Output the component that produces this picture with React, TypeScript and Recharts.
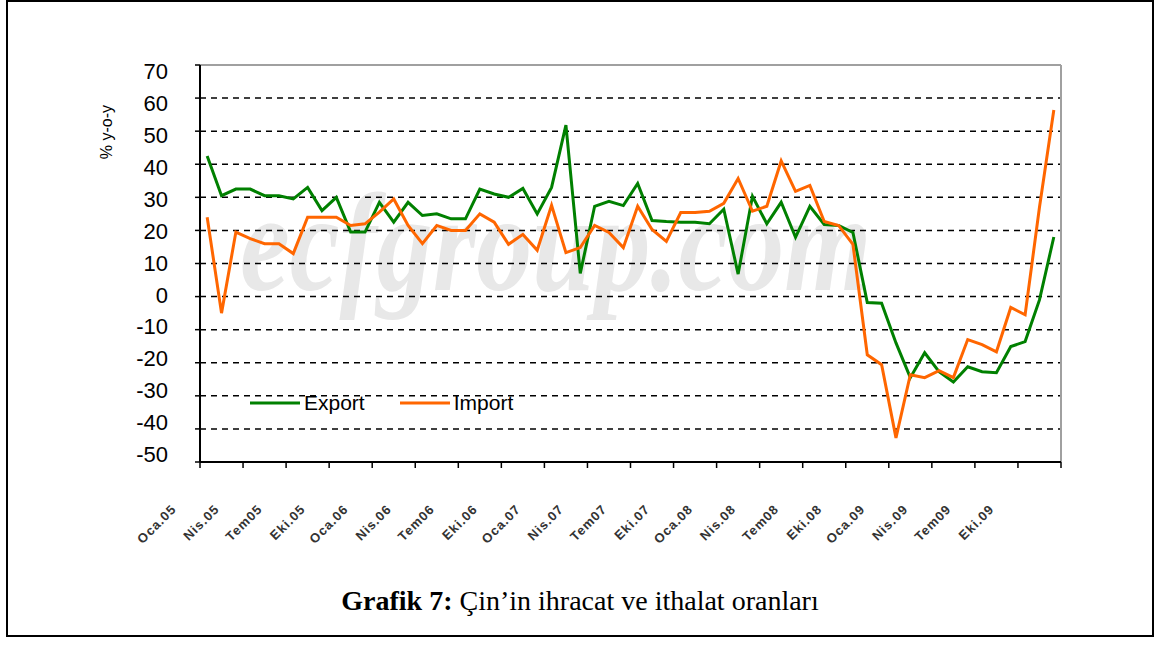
import { LineChart, Line, XAxis, YAxis, CartesianGrid, ReferenceLine, Legend } from 'recharts';

// tick labels, one per quarter (Oca = Jan, Nis = Apr, Tem = Jul, Eki = Oct)
const quarterLabels = [
  'Oca.05', 'Nis.05', 'Tem05', 'Eki.05',
  'Oca.06', 'Nis.06', 'Tem06', 'Eki.06',
  'Oca.07', 'Nis.07', 'Tem07', 'Eki.07',
  'Oca.08', 'Nis.08', 'Tem08', 'Eki.08',
  'Oca.09', 'Nis.09', 'Tem09', 'Eki.09',
];

// monthly % y-o-y, Jan 2005 .. Dec 2009
const exportGrowth = [
  42.5, 30.5, 32.5, 32.5, 30.5, 30.5, 29.5, 33, 26, 30, 19.5, 19.5,
  28.5, 22.5, 28.5, 24.5, 25, 23.5, 23.5, 32.5, 31, 30, 32.7, 25,
  33, 51.8, 7, 27.3, 28.8, 27.5, 34.2, 23, 22.7, 22.5, 22.5, 22,
  26.4, 6.8, 30.3, 22, 28.5, 17.9, 27.3, 21.8, 21.5, 19.4, -1.8, -2,
  -14, -24.5, -17, -22.7, -25.8, -21.2, -22.7, -23, -15.1, -13.6, -1, 18,
];

const importGrowth = [
  24, -5, 19.5, 17.5, 16, 16, 13, 24, 24, 24, 21.5, 22,
  25.5, 29.5, 21.5, 16, 21.5, 20, 20, 25, 22.5, 15.8, 18.8, 14,
  27.6, 13.3, 14.8, 21.5, 19.4, 14.8, 27.3, 20.3, 16.7, 25.4, 25.4, 25.8,
  28.2, 35.7, 25.8, 27.3, 41, 31.8, 33.6, 22.7, 21.5, 15.8, -17.6, -20.6,
  -42.7, -23.6, -24.5, -22.4, -24.5, -13, -14.5, -16.7, -3.3, -5.5, 27, 56.4,
];

const yTicks = [-50, -40, -30, -20, -10, 0, 10, 20, 30, 40, 50, 60, 70];

// month i sits in the middle of its slot, quarter ticks on the slot borders
const data = exportGrowth.map((v, i) => ({ x: i + 0.5, Export: v, Import: importGrowth[i] }));
const xTicks = quarterLabels.map((_, i) => i * 3).concat(quarterLabels.length * 3);

const GREEN = '#008000';
const ORANGE = '#ff6600';

function MonthTick(props: any) {
  const { x, y, payload } = props;
  const label = quarterLabels[payload.value / 3];
  if (!label) return null;
  const ax = x - 23;
  const ay = y + 42;
  return (
    <text
      x={ax}
      y={ay}
      transform={`rotate(-45 ${ax} ${ay})`}
      textAnchor="end"
      fontFamily="'Liberation Sans', Arial, sans-serif"
      fontSize={13}
      fontWeight="bold"
      letterSpacing={1}
      fill="#333"
    >
      {label}
    </text>
  );
}

function ValueTick(props: any) {
  const { x, y, payload } = props;
  // labels in the original sit slightly closer together than the grid
  const shift = -2 + 0.115 * payload.value;
  return (
    <text
      x={x}
      y={y + shift}
      dy="0.36em"
      textAnchor="end"
      fontFamily="'Liberation Sans', Arial, sans-serif"
      fontSize={22}
      fill="#000"
    >
      {payload.value}
    </text>
  );
}

function LegendBox() {
  const items = [
    { name: 'Export', color: GREEN },
    { name: 'Import', color: ORANGE },
  ];
  return (
    <div style={{ display: 'flex', alignItems: 'center', fontFamily: "'Liberation Sans', Arial, sans-serif", fontSize: 21 }}>
      {items.map((it, i) => (
        <div key={it.name} style={{ display: 'flex', alignItems: 'center', marginRight: i === 0 ? 35 : 0 }}>
          <svg width={50} height={6} style={{ marginRight: 4 }}>
            <line x1={0} y1={3} x2={50} y2={3} stroke={it.color} strokeWidth={3} />
          </svg>
          <span>{it.name}</span>
        </div>
      ))}
    </div>
  );
}

export default function App() {
  return (
    <div style={{ position: 'absolute', left: 0, top: 0, width: 1160, height: 646, background: '#fff', overflow: 'hidden' }}>
      <div
        style={{
          position: 'absolute', left: 6, top: 0, width: 1148, height: 637,
          border: '2px solid #000', boxSizing: 'border-box',
        }}
      />
      <div
        style={{
          position: 'absolute', left: 240, top: 173, fontFamily: "'Liberation Serif', serif",
          fontStyle: 'italic', fontWeight: 'bold', fontSize: 140, lineHeight: '140px', color: '#e8e8e8',
          whiteSpace: 'nowrap', transform: 'scaleX(0.8)', transformOrigin: 'left top',
        }}
      >
        ecfgroup.com
      </div>
      <div style={{ position: 'absolute', left: 0, top: 0 }}>
        <LineChart width={1160} height={646} data={data} margin={{ top: 65, right: 99, bottom: 84, left: 140 }}>
          <CartesianGrid vertical={false} stroke="#000" strokeWidth={1.5} strokeDasharray="6 5" />
          <XAxis
            type="number"
            dataKey="x"
            domain={[0, 60]}
            ticks={xTicks}
            interval={0}
            height={100}
            tickSize={6}
            tickMargin={0}
            axisLine={{ stroke: '#000', strokeWidth: 2 }}
            tickLine={{ stroke: '#000', strokeWidth: 1.5 }}
            tick={<MonthTick />}
          />
          <YAxis
            domain={[-50, 70]}
            ticks={yTicks}
            interval={0}
            width={60}
            tickSize={5}
            tickMargin={27}
            axisLine={{ stroke: '#000', strokeWidth: 2 }}
            tickLine={{ stroke: '#000', strokeWidth: 1.5 }}
            tick={<ValueTick />}
            label={{
              content: () => (
                <text
                  x={112}
                  y={132}
                  transform="rotate(-90 112 132)"
                  textAnchor="middle"
                  fontFamily="'Liberation Sans', Arial, sans-serif"
                  fontSize={16}
                  fill="#000"
                >
                  % y-o-y
                </text>
              ),
            }}
          />
          <ReferenceLine y={70} stroke="#a0a0a0" strokeWidth={2} />
          <ReferenceLine x={60} stroke="#a0a0a0" strokeWidth={2} />
          <Legend
            layout="vertical"
            align="center"
            verticalAlign="middle"
            content={<LegendBox />}
            wrapperStyle={{ position: 'absolute', left: 250, top: 391, width: 320 }}
          />
          <Line type="linear" dataKey="Export" stroke={GREEN} strokeWidth={3} dot={false} isAnimationActive={false} />
          <Line type="linear" dataKey="Import" stroke={ORANGE} strokeWidth={3} dot={false} isAnimationActive={false} />
        </LineChart>
      </div>
      <div
        style={{
          position: 'absolute', left: 0, width: 1160, top: 585, textAlign: 'center',
          fontFamily: "'Liberation Serif', 'Times New Roman', serif", fontSize: 28, color: '#000',
        }}
      >
        <b>Grafik 7:</b> Çin’in ihracat ve ithalat oranları
      </div>
    </div>
  );
}
